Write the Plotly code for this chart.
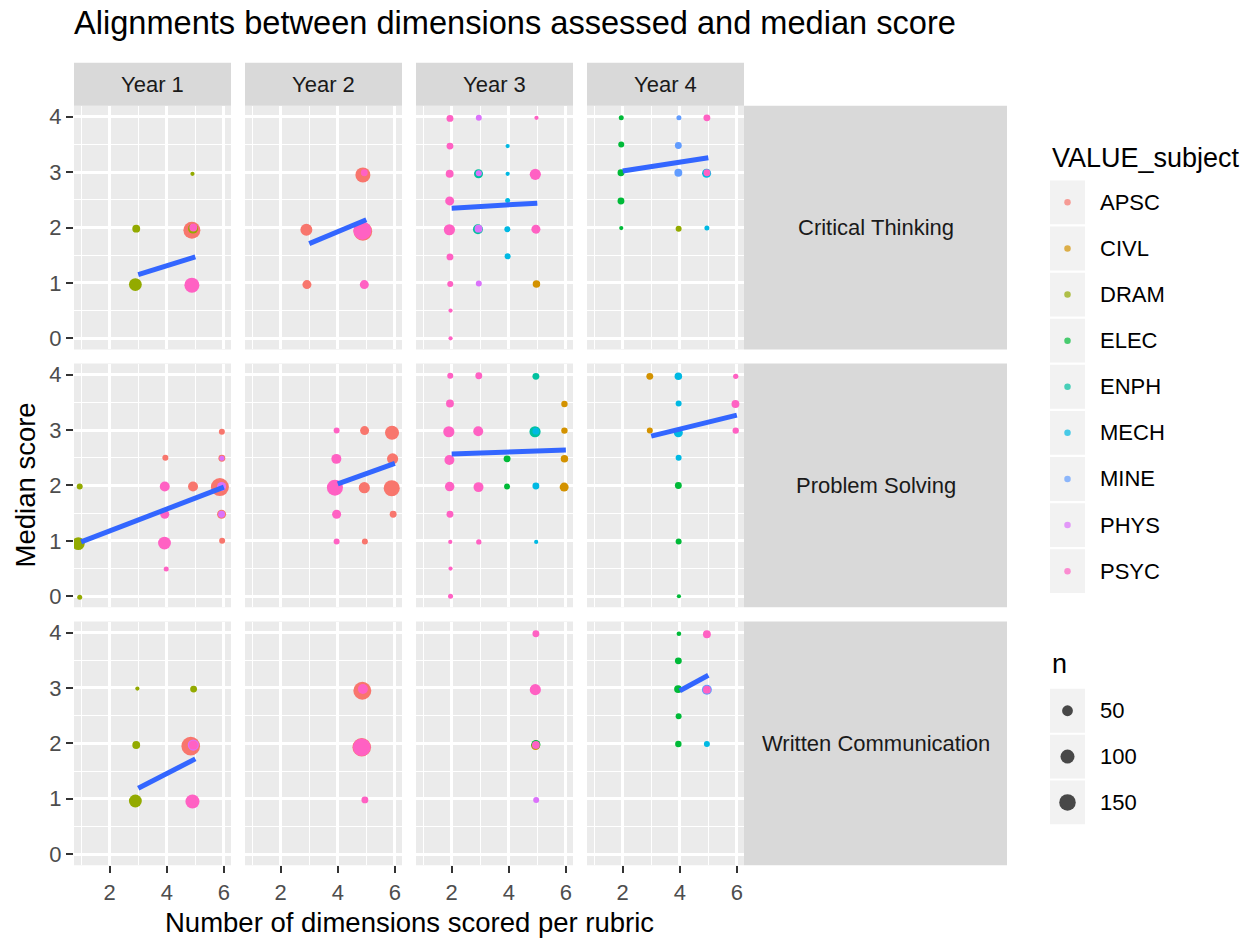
import math
import plotly.graph_objects as go

# The page's body margin is removed after plotting (see write_html below),
# so the figure covers the full 1252 x 943 window.
OFF = 0
W, H = 1252 - OFF, 943 - OFF

# ---------------- data ----------------
SUBJECTS = ["APSC", "CIVL", "DRAM", "ELEC", "ENPH", "MECH", "MINE", "PHYS", "PSYC"]
SUBJECT_COLORS = ["#F8766D", "#D39200", "#93AA00", "#00BA38", "#00C19F",
                  "#00B9E3", "#619CFF", "#DB72FB", "#FF61C3"]
YEARS = ["Year 1", "Year 2", "Year 3", "Year 4"]
SKILLS = ["Critical Thinking", "Problem Solving", "Written Communication"]
X_TICKS = [2, 4, 6]
Y_TICKS = [0, 1, 2, 3, 4]
N_BREAKS = [50, 100, 150]

# (subject, dimensions scored (jittered), median score (jittered), n)
ct_y1 = [("APSC", 4.88, 1.95, 160), ("DRAM", 4.90, 2.97, 2), ("DRAM", 2.93, 1.98, 20),
         ("DRAM", 4.92, 1.98, 40), ("DRAM", 2.90, 0.97, 80), ("PSYC", 4.93, 2.00, 20),
         ("PSYC", 4.88, 0.96, 118)]
ct_y2 = [("APSC", 4.88, 2.95, 118), ("APSC", 2.90, 1.96, 66), ("APSC", 4.88, 1.93, 200),
         ("APSC", 2.92, 0.97, 30), ("PSYC", 4.93, 2.99, 13), ("PSYC", 4.86, 1.945, 190),
         ("PSYC", 4.93, 0.97, 30)]
ct_y3 = [("CIVL", 4.97, 0.98, 17), ("ENPH", 2.94, 2.97, 30), ("ENPH", 2.92, 1.97, 40),
         ("MECH", 3.96, 3.47, 2), ("MECH", 3.96, 2.97, 2), ("MECH", 3.96, 2.49, 4),
         ("MECH", 3.95, 1.97, 8), ("MECH", 3.96, 1.48, 8), ("PHYS", 2.95, 3.98, 8),
         ("PHYS", 2.95, 2.98, 8), ("PHYS", 2.94, 1.98, 20), ("PHYS", 2.95, 0.99, 8),
         ("PSYC", 1.94, 3.97, 13), ("PSYC", 4.97, 3.98, 2), ("PSYC", 1.94, 3.47, 13),
         ("PSYC", 1.93, 2.97, 20), ("PSYC", 4.93, 2.96, 55), ("PSYC", 1.93, 2.48, 30),
         ("PSYC", 1.92, 1.96, 55), ("PSYC", 4.95, 1.97, 30), ("PSYC", 1.94, 1.47, 13),
         ("PSYC", 1.95, 0.98, 8), ("PSYC", 1.96, 0.50, 2), ("PSYC", 1.96, 0.00, 2)]
ct_y4 = [("DRAM", 3.96, 1.98, 8), ("ELEC", 1.95, 3.98, 4), ("ELEC", 1.95, 3.50, 8),
         ("ELEC", 1.94, 2.99, 13), ("ELEC", 1.94, 2.48, 13), ("ELEC", 1.95, 1.99, 2),
         ("MECH", 4.94, 2.98, 30), ("MECH", 4.95, 1.99, 4), ("MINE", 3.97, 3.98, 4),
         ("MINE", 3.95, 3.48, 13), ("MINE", 3.95, 2.99, 20), ("PSYC", 4.95, 3.98, 13),
         ("PSYC", 4.95, 2.99, 13)]
ps_y1 = [("APSC", 5.93, 2.97, 8), ("APSC", 3.95, 2.50, 8), ("APSC", 5.93, 2.49, 13),
         ("APSC", 4.92, 1.98, 40), ("APSC", 5.86, 1.97, 185), ("APSC", 5.92, 1.48, 30),
         ("APSC", 5.94, 1.00, 8), ("DRAM", 0.95, 1.98, 8), ("DRAM", 0.90, 0.95, 80),
         ("DRAM", 0.95, -0.02, 4), ("PHYS", 5.93, 2.49, 4), ("PHYS", 5.92, 1.98, 30),
         ("PHYS", 5.92, 1.48, 13), ("PSYC", 3.93, 1.98, 40), ("PSYC", 3.93, 1.48, 30),
         ("PSYC", 3.92, 0.96, 80), ("PSYC", 3.98, 0.49, 4)]
ps_y2 = [("APSC", 4.94, 2.99, 30), ("APSC", 5.90, 2.95, 100), ("APSC", 5.92, 2.48, 55),
         ("APSC", 4.93, 1.96, 55), ("APSC", 5.89, 1.95, 140), ("APSC", 5.94, 1.48, 13),
         ("APSC", 4.95, 0.99, 8), ("PSYC", 3.96, 2.99, 8), ("PSYC", 3.95, 2.48, 40),
         ("PSYC", 3.90, 1.96, 140), ("PSYC", 3.96, 1.48, 30), ("PSYC", 3.96, 0.99, 8)]
ps_y3 = [("CIVL", 5.95, 3.47, 10), ("CIVL", 5.95, 2.99, 10), ("CIVL", 5.95, 2.48, 17),
         ("CIVL", 5.94, 1.97, 30), ("ELEC", 3.94, 2.48, 13), ("ELEC", 3.94, 1.98, 8),
         ("ENPH", 4.95, 3.97, 13), ("ENPH", 4.92, 2.97, 55), ("MECH", 4.95, 2.98, 13),
         ("MECH", 4.95, 1.99, 13), ("MECH", 4.96, 0.98, 2), ("PSYC", 1.95, 3.98, 8),
         ("PSYC", 2.95, 3.98, 13), ("PSYC", 1.94, 3.48, 20), ("PSYC", 1.90, 2.97, 55),
         ("PSYC", 2.93, 2.98, 40), ("PSYC", 1.92, 2.46, 40), ("PSYC", 1.93, 1.98, 35),
         ("PSYC", 2.94, 1.97, 40), ("PSYC", 1.94, 1.48, 13), ("PSYC", 1.95, 0.98, 2),
         ("PSYC", 2.95, 0.98, 5), ("PSYC", 1.96, 0.50, 2), ("PSYC", 1.96, 0.00, 4)]
ps_y4 = [("CIVL", 2.95, 3.97, 13), ("CIVL", 2.95, 2.99, 8), ("ELEC", 3.95, 2.00, 13),
         ("ELEC", 3.96, 0.99, 8), ("ELEC", 3.97, 0.00, 2), ("MECH", 3.95, 3.97, 17),
         ("MECH", 3.96, 3.48, 8), ("MECH", 3.95, 2.95, 30), ("MECH", 3.96, 2.50, 8),
         ("PSYC", 5.96, 3.97, 5), ("PSYC", 5.95, 3.47, 20), ("PSYC", 5.96, 2.99, 10)]
wc_y1 = [("APSC", 4.84, 1.95, 200), ("DRAM", 2.97, 2.99, 2), ("DRAM", 4.94, 2.98, 13),
         ("DRAM", 2.93, 1.97, 20), ("DRAM", 2.90, 0.96, 80), ("PHYS", 4.93, 1.97, 55),
         ("PSYC", 4.93, 1.97, 30), ("PSYC", 4.90, 0.95, 100)]
wc_y2 = [("APSC", 4.86, 2.95, 185), ("APSC", 4.84, 1.93, 200), ("PSYC", 4.88, 2.98, 40),
         ("PSYC", 4.84, 1.93, 175), ("PSYC", 4.95, 0.98, 13)]
wc_y3 = [("CIVL", 4.94, 1.96, 30), ("ELEC", 4.95, 1.98, 30), ("PHYS", 4.96, 0.98, 8),
         ("PSYC", 4.95, 3.98, 13), ("PSYC", 4.93, 2.97, 55), ("PSYC", 4.95, 1.97, 20)]
wc_y4 = [("ELEC", 3.97, 3.98, 3), ("ELEC", 3.95, 3.49, 13), ("ELEC", 3.94, 2.98, 20),
         ("ELEC", 3.96, 2.49, 8), ("ELEC", 3.95, 1.99, 10), ("MECH", 4.95, 1.99, 8),
         ("MINE", 4.95, 2.97, 40), ("PSYC", 4.95, 3.97, 20), ("PSYC", 4.95, 2.97, 20)]

PANEL_POINTS = [[ct_y1, ct_y2, ct_y3, ct_y4],
                [ps_y1, ps_y2, ps_y3, ps_y4],
                [wc_y1, wc_y2, wc_y3, wc_y4]]

# linear fit (geom_smooth, method = lm) per panel
trend_skill = [0, 0, 0, 0, 1, 1, 1, 1, 2, 2]
trend_year = [0, 1, 2, 3, 0, 1, 2, 3, 0, 3]
trend_x0 = [3, 3, 2, 2, 1, 4, 2, 3, 3, 4]
trend_x1 = [5, 5, 5, 5, 6, 6, 6, 6, 5, 5]
trend_y0 = [1.15, 1.71, 2.35, 3.02, 0.98, 2.03, 2.57, 2.89, 1.19, 2.95]
trend_y1 = [1.47, 2.14, 2.44, 3.26, 1.97, 2.40, 2.64, 3.27, 1.72, 3.23]

# ---------------- layout geometry (reference pixels) ----------------
col_px = [(74, 231), (245, 402), (416, 573), (587, 744)]
row_px = [(105, 349.5), (363.75, 608.25), (622.5, 867)]
strip_top = (62, 105)
row_strip_x = (744, 1007)
FONT = "Liberation Sans, Arial, sans-serif"


def px_x(p):
    return (p - OFF) / W


def px_y(p):
    return 1 - (p - OFF) / H


def diam(n):
    return 3.1 * (1 + 5 * math.sqrt(max(n - 1, 0) / 199.0))


fig = go.Figure()
shapes = []
annotations = []
layout_axes = {}

for r in range(3):
    for c in range(4):
        k = r * 4 + c + 1
        xs = "" if k == 1 else str(k)
        x0, x1 = col_px[c]
        y0, y1 = row_px[r]
        layout_axes["xaxis" + xs] = dict(
            domain=[px_x(x0), px_x(x1)], range=[0.75, 6.25], anchor="y" + xs,
            tickmode="array", tickvals=X_TICKS, ticktext=[str(v) for v in X_TICKS],
            showticklabels=(r == 2), ticks="outside" if r == 2 else "",
            ticklen=7, tickwidth=2.2, tickcolor="#333333",
            tickfont=dict(size=22, color="#4D4D4D", family=FONT),
            showgrid=True, gridcolor="white", gridwidth=2.8,
            zeroline=False, showline=False, fixedrange=True,
            minor=dict(tickmode="linear", tick0=1, dtick=2, showgrid=True,
                       gridcolor="white", gridwidth=1.4, ticks=""),
        )
        layout_axes["yaxis" + xs] = dict(
            domain=[px_y(y1), px_y(y0)], range=[-0.2, 4.2], anchor="x" + xs,
            tickmode="array", tickvals=Y_TICKS, ticktext=[str(v) for v in Y_TICKS],
            showticklabels=(c == 0), ticks="outside" if c == 0 else "",
            ticklen=7, tickwidth=2.2, tickcolor="#333333",
            tickfont=dict(size=22, color="#4D4D4D", family=FONT),
            showgrid=True, gridcolor="white", gridwidth=2.8,
            zeroline=False, showline=False, fixedrange=True,
            minor=dict(tickmode="linear", tick0=0.5, dtick=1, showgrid=True,
                       gridcolor="white", gridwidth=1.4, ticks=""),
        )
        # panel background
        shapes.append(dict(type="rect", xref="paper", yref="paper", layer="below",
                           x0=px_x(x0), x1=px_x(x1), y0=px_y(y1), y1=px_y(y0),
                           fillcolor="#EBEBEB", line=dict(width=0)))
        pts = PANEL_POINTS[r][c]
        for si, subj in enumerate(SUBJECTS):
            sp = [p for p in pts if p[0] == subj]
            if not sp:
                continue
            fig.add_trace(go.Scatter(
                x=[p[1] for p in sp], y=[p[2] for p in sp], mode="markers",
                xaxis="x" + xs, yaxis="y" + xs, showlegend=False,
                marker=dict(color=SUBJECT_COLORS[si], size=[diam(p[3]) for p in sp],
                            line=dict(width=0), opacity=1),
            ))

for i in range(len(trend_x0)):
    k = trend_skill[i] * 4 + trend_year[i] + 1
    xs = "" if k == 1 else str(k)
    fig.add_trace(go.Scatter(
        x=[trend_x0[i], trend_x1[i]], y=[trend_y0[i], trend_y1[i]], mode="lines",
        xaxis="x" + xs, yaxis="y" + xs, showlegend=False,
        line=dict(color="#3366FF", width=5),
    ))

# strips
for c, yr in enumerate(YEARS):
    x0, x1 = col_px[c]
    shapes.append(dict(type="rect", xref="paper", yref="paper", layer="below",
                       x0=px_x(x0), x1=px_x(x1), y0=px_y(strip_top[1]), y1=px_y(strip_top[0]),
                       fillcolor="#D9D9D9", line=dict(width=0)))
    annotations.append(dict(text=yr, xref="paper", yref="paper", showarrow=False,
                            x=px_x((x0 + x1) / 2), y=px_y(sum(strip_top) / 2),
                            xanchor="center", yanchor="middle",
                            font=dict(size=22, color="#1A1A1A", family=FONT)))
for r, sk in enumerate(SKILLS):
    y0, y1 = row_px[r]
    shapes.append(dict(type="rect", xref="paper", yref="paper", layer="below",
                       x0=px_x(row_strip_x[0]), x1=px_x(row_strip_x[1]),
                       y0=px_y(y1), y1=px_y(y0),
                       fillcolor="#D9D9D9", line=dict(width=0)))
    annotations.append(dict(text=sk, xref="paper", yref="paper", showarrow=False,
                            x=px_x(sum(row_strip_x) / 2), y=px_y((y0 + y1) / 2),
                            xanchor="center", yanchor="middle",
                            font=dict(size=22, color="#1A1A1A", family=FONT)))

# titles
annotations.append(dict(text="Alignments between dimensions assessed and median score",
                        xref="paper", yref="paper", showarrow=False,
                        x=px_x(72), y=px_y(22), xanchor="left", yanchor="middle",
                        font=dict(size=32.6, color="black", family=FONT)))
annotations.append(dict(text="Number of dimensions scored per rubric",
                        xref="paper", yref="paper", showarrow=False,
                        x=px_x(409), y=px_y(924), xanchor="center", yanchor="middle",
                        font=dict(size=27.5, color="black", family=FONT)))
annotations.append(dict(text="Median score", xref="paper", yref="paper", showarrow=False,
                        x=px_x(25), y=px_y(486), xanchor="center", yanchor="middle",
                        textangle=-90, font=dict(size=27.5, color="black", family=FONT)))

# ---------------- manual legends ----------------
LEG_X0, LEG_KEY_W = 1050, 35
COL_TITLE_Y = 158
COL_FIRST_Y, COL_STEP = 202, 46.25
KEY_H = 44
annotations.append(dict(text="VALUE_subject", xref="paper", yref="paper", showarrow=False,
                        x=px_x(LEG_X0), y=px_y(COL_TITLE_Y), xanchor="left", yanchor="middle",
                        font=dict(size=27, color="black", family=FONT)))
leg_x, leg_y, leg_c, leg_s = [], [], [], []
for i, subj in enumerate(SUBJECTS):
    cy = COL_FIRST_Y + i * COL_STEP
    shapes.append(dict(type="rect", xref="paper", yref="paper", layer="below",
                       x0=px_x(LEG_X0), x1=px_x(LEG_X0 + LEG_KEY_W),
                       y0=px_y(cy + KEY_H / 2), y1=px_y(cy - KEY_H / 2),
                       fillcolor="#F2F2F2", line=dict(width=0)))
    annotations.append(dict(text=subj, xref="paper", yref="paper", showarrow=False,
                            x=px_x(LEG_X0 + LEG_KEY_W + 13), y=px_y(cy),
                            xanchor="left", yanchor="middle",
                            font=dict(size=22, color="black", family=FONT)))
    leg_x.append(LEG_X0 + LEG_KEY_W / 2)
    leg_y.append(cy)
    leg_c.append(SUBJECT_COLORS[i])
    leg_s.append(6.5)

N_TITLE_Y = 665
N_FIRST_Y, N_STEP = 712, 46
annotations.append(dict(text="n", xref="paper", yref="paper", showarrow=False,
                        x=px_x(LEG_X0), y=px_y(N_TITLE_Y), xanchor="left", yanchor="middle",
                        font=dict(size=27, color="black", family=FONT)))
for i, nb in enumerate(N_BREAKS):
    cy = N_FIRST_Y + i * N_STEP
    shapes.append(dict(type="rect", xref="paper", yref="paper", layer="below",
                       x0=px_x(LEG_X0), x1=px_x(LEG_X0 + LEG_KEY_W),
                       y0=px_y(cy + KEY_H / 2), y1=px_y(cy - KEY_H / 2),
                       fillcolor="#F2F2F2", line=dict(width=0)))
    annotations.append(dict(text=str(nb), xref="paper", yref="paper", showarrow=False,
                            x=px_x(LEG_X0 + LEG_KEY_W + 13), y=px_y(cy),
                            xanchor="left", yanchor="middle",
                            font=dict(size=22, color="black", family=FONT)))
    leg_x.append(LEG_X0 + LEG_KEY_W / 2)
    leg_y.append(cy)
    leg_c.append("black")
    leg_s.append(diam(nb))

fig.add_trace(go.Scatter(x=leg_x, y=leg_y, mode="markers", xaxis="x13", yaxis="y13",
                         showlegend=False, hoverinfo="skip",
                         marker=dict(color=leg_c, size=leg_s, line=dict(width=0))))
layout_axes["xaxis13"] = dict(domain=[0, 1], range=[OFF, OFF + W], visible=False,
                              fixedrange=True, anchor="y13")
layout_axes["yaxis13"] = dict(domain=[0, 1], range=[OFF + H, OFF], visible=False,
                              fixedrange=True, anchor="x13")

fig.update_layout(
    width=W, height=H, margin=dict(l=0, r=0, t=0, b=0),
    paper_bgcolor="white", plot_bgcolor="rgba(0,0,0,0)",
    showlegend=False, shapes=shapes, annotations=annotations,
    font=dict(family=FONT), **layout_axes,
)

fig.write_html(
    "out.html",
    config={"displayModeBar": False},
    post_script="document.body.style.margin='0';document.body.style.overflow='hidden';",
)
